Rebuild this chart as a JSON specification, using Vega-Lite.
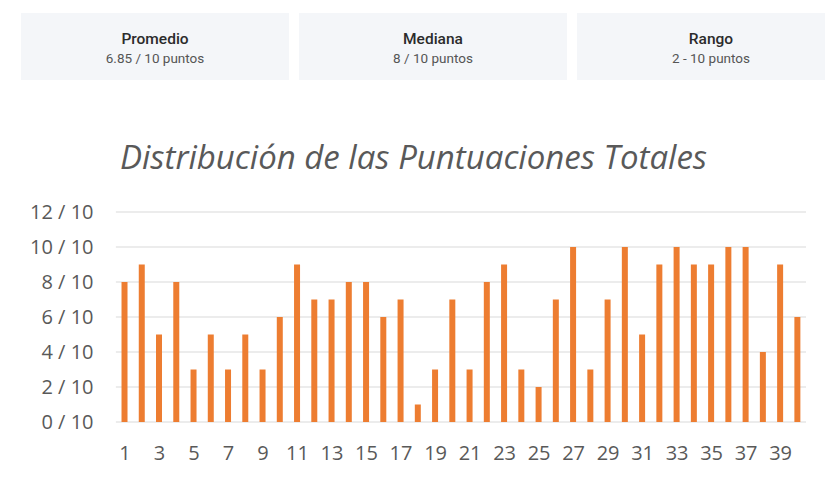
{
  "$schema": "https://vega.github.io/schema/vega-lite/v6.json",
  "background": "white",
  "padding": {"left": 21, "top": 13, "right": 0, "bottom": 10},
  "spacing": 63,
  "config": {"axis": {"labelOverlap": false}},
  "datasets": {
    "resumen": [
      {"orden": 1, "titulo": "Promedio", "valor": "6.85 / 10 puntos"},
      {"orden": 2, "titulo": "Mediana", "valor": "8 / 10 puntos"},
      {"orden": 3, "titulo": "Rango", "valor": "2 - 10 puntos"}
    ],
    "puntuaciones": [
      {"alumno": 1, "puntos": 8}, {"alumno": 2, "puntos": 9}, {"alumno": 3, "puntos": 5}, {"alumno": 4, "puntos": 8},
      {"alumno": 5, "puntos": 3}, {"alumno": 6, "puntos": 5}, {"alumno": 7, "puntos": 3}, {"alumno": 8, "puntos": 5},
      {"alumno": 9, "puntos": 3}, {"alumno": 10, "puntos": 6}, {"alumno": 11, "puntos": 9}, {"alumno": 12, "puntos": 7},
      {"alumno": 13, "puntos": 7}, {"alumno": 14, "puntos": 8}, {"alumno": 15, "puntos": 8}, {"alumno": 16, "puntos": 6},
      {"alumno": 17, "puntos": 7}, {"alumno": 18, "puntos": 1}, {"alumno": 19, "puntos": 3}, {"alumno": 20, "puntos": 7},
      {"alumno": 21, "puntos": 3}, {"alumno": 22, "puntos": 8}, {"alumno": 23, "puntos": 9}, {"alumno": 24, "puntos": 3},
      {"alumno": 25, "puntos": 2}, {"alumno": 26, "puntos": 7}, {"alumno": 27, "puntos": 10}, {"alumno": 28, "puntos": 3},
      {"alumno": 29, "puntos": 7}, {"alumno": 30, "puntos": 10}, {"alumno": 31, "puntos": 5}, {"alumno": 32, "puntos": 9},
      {"alumno": 33, "puntos": 10}, {"alumno": 34, "puntos": 9}, {"alumno": 35, "puntos": 9}, {"alumno": 36, "puntos": 10},
      {"alumno": 37, "puntos": 10}, {"alumno": 38, "puntos": 4}, {"alumno": 39, "puntos": 9}, {"alumno": 40, "puntos": 6}
    ],
    "lineas": [
      {"v": 0}, {"v": 2}, {"v": 4}, {"v": 6}, {"v": 8}, {"v": 10}, {"v": 12}
    ]
  },
  "vconcat": [
    {
      "data": {"name": "resumen"},
      "facet": {"column": {"field": "orden", "type": "ordinal", "header": null}},
      "spacing": 10,
      "spec": {
        "width": 268,
        "height": 67,
        "view": {"fill": "#f4f6f9", "stroke": null},
        "layer": [
          {
            "mark": {"type": "text", "font": "Roboto", "fontSize": 15.5, "fontWeight": 500, "color": "#2b2b2b", "dy": -8},
            "encoding": {"text": {"field": "titulo", "type": "nominal"}}
          },
          {
            "mark": {"type": "text", "font": "Roboto", "fontSize": 13.5, "color": "#555555", "dy": 12.5},
            "encoding": {"text": {"field": "valor", "type": "nominal"}}
          }
        ]
      }
    },
    {
      "width": 785,
      "height": 210,
      "view": {"stroke": null},
      "title": {
        "text": "Distribución de las Puntuaciones Totales",
        "font": "Open Sans",
        "fontSize": 33,
        "fontStyle": "italic",
        "fontWeight": "normal",
        "color": "#595959",
        "anchor": "middle",
        "offset": 26
      },
      "encoding": {
        "y": {
          "type": "quantitative",
          "scale": {"domain": [0, 12], "nice": false},
          "axis": {
            "title": null,
            "values": [0, 2, 4, 6, 8, 10, 12],
            "labelExpr": "datum.value + ' / 10'",
            "domain": false,
            "ticks": false,
            "tickSize": 0,
            "grid": false,
            "labelAlign": "right",
            "labelPadding": -72,
            "labelOverlap": false,
            "labelFont": "Open Sans",
            "labelFontSize": 20,
            "labelColor": "#595959"
          }
        }
      },
      "layer": [
        {
          "data": {"name": "lineas"},
          "mark": {"type": "rule", "color": "#d9d9d9", "strokeWidth": 1},
          "encoding": {
            "x": {"datum": 0.5, "type": "quantitative"},
            "x2": {"datum": 40.5},
            "y": {"field": "v", "type": "quantitative"}
          }
        },
        {
          "data": {"name": "puntuaciones"},
          "mark": {"type": "bar", "color": "#ED7D31", "width": 6},
          "encoding": {
            "x": {
              "field": "alumno",
              "type": "quantitative",
              "scale": {"domain": [-5, 40.5], "nice": false, "zero": false, "padding": 0},
              "axis": {
                "title": null,
                "values": [1, 3, 5, 7, 9, 11, 13, 15, 17, 19, 21, 23, 25, 27, 29, 31, 33, 35, 37, 39],
                "domain": false,
                "ticks": false,
                "grid": false,
                "labelFont": "Open Sans",
                "labelFontSize": 20,
                "labelColor": "#595959",
                "labelPadding": 21,
                "labelOverlap": false,
                "labelFlush": false
              }
            },
            "y": {"field": "puntos", "type": "quantitative"}
          }
        }
      ]
    }
  ]
}
